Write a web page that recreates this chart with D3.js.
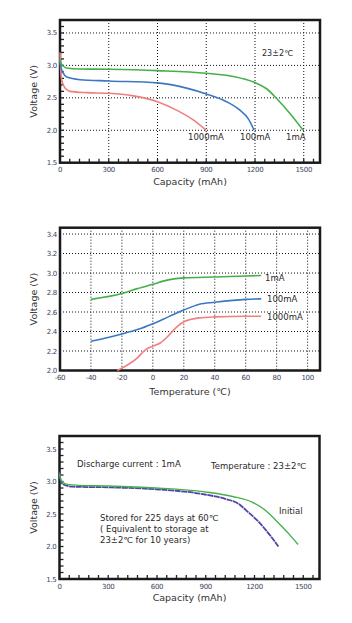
<!DOCTYPE html>
<html>
<head>
<meta charset="utf-8">
<script src="https://cdn.jsdelivr.net/npm/d3@7"></script>
<style>
  body { margin: 0; background: #fff; }
  svg text { font-family: "DejaVu Sans", sans-serif; }
</style>
</head>
<body>
<div id="chart"></div>
<script>
// ---- chart 1 : discharge at different currents (capacity, voltage)
var cap1mA    = [0, 5, 20, 40, 123, 300, 600, 900, 1066, 1195, 1271, 1333, 1415, 1497];
var volt1mA   = [3.10, 3.04, 2.99, 2.96, 2.945, 2.94, 2.92, 2.88, 2.83, 2.74, 2.64, 2.49, 2.26, 2.0];
var cap100mA  = [0, 5, 20, 41, 123, 300, 600, 779, 900, 1025, 1107, 1158, 1195];
var volt100mA = [3.08, 2.98, 2.88, 2.82, 2.78, 2.76, 2.73, 2.65, 2.56, 2.44, 2.31, 2.18, 2.0];
var cap1000mA  = [0, 4, 10, 31, 62, 164, 300, 451, 600, 717, 820, 900];
var volt1000mA = [3.20, 2.95, 2.78, 2.65, 2.60, 2.58, 2.57, 2.53, 2.44, 2.31, 2.16, 2.0];

// ---- chart 2 : voltage vs temperature
var temp1mA   = [-40, -20, -10, 0, 10, 20, 40, 60, 70];
var tv1mA     = [2.73, 2.79, 2.84, 2.885, 2.93, 2.95, 2.96, 2.97, 2.975];
var temp100mA = [-40, -20, -10, 0, 10, 20, 30, 40, 60, 70];
var tv100mA   = [2.30, 2.375, 2.42, 2.48, 2.55, 2.62, 2.68, 2.70, 2.73, 2.735];
var temp1000mA = [-23, -10, -5, 0, 5, 10, 15, 20, 30, 40, 60, 70];
var tv1000mA   = [2.0, 2.13, 2.21, 2.25, 2.285, 2.355, 2.44, 2.50, 2.54, 2.55, 2.556, 2.556];

// ---- chart 3 : storage characteristics
var capInitial  = [0, 5, 20, 41, 123, 297, 594, 895, 1065, 1188, 1270, 1352, 1413, 1468];
var voltInitial = [3.12, 3.05, 2.99, 2.96, 2.94, 2.93, 2.90, 2.84, 2.77, 2.68, 2.55, 2.35, 2.19, 2.03];
var capStored   = [0, 5, 20, 82, 297, 594, 895, 1024, 1106, 1147, 1229, 1290, 1347];
var voltStored  = [3.15, 3.04, 2.96, 2.92, 2.91, 2.88, 2.80, 2.73, 2.65, 2.56, 2.37, 2.19, 2.0];

var capTicks  = [0, 300, 600, 900, 1200, 1500];
var voltTicks = [1.5, 2.0, 2.5, 3.0, 3.5];
var tempTicks = [-60, -40, -20, 0, 20, 40, 60, 80, 100];
var tvTicks   = [2.0, 2.2, 2.4, 2.6, 2.8, 3.0, 3.2, 3.4];

var green = "#45b04b", blue = "#3b78c2", red = "#f07f80", purple = "#4e44a8";

var svg = d3.select("#chart").append("svg")
    .attr("width", 352).attr("height", 623);

function zip(xs, ys) { return xs.map(function (x, i) { return [x, ys[i]]; }); }

// draws one panel: frame, grid, ticks, labels
function panel(opt) {
    var x = d3.scaleLinear().domain(opt.xDomain).range([opt.left, opt.right]);
    var y = d3.scaleLinear().domain(opt.yDomain).range([opt.bottom, opt.top]);
    var g = svg.append("g");

    if (opt.grid) {
        g.selectAll(".gx").data(opt.xGrid).enter().append("line")
            .attr("x1", function (d) { return x(d); }).attr("x2", function (d) { return x(d); })
            .attr("y1", opt.top).attr("y2", opt.bottom)
            .attr("stroke", "#111").attr("stroke-width", 1).attr("stroke-dasharray", "1,2");
        g.selectAll(".gy").data(opt.yGrid).enter().append("line")
            .attr("y1", function (d) { return y(d); }).attr("y2", function (d) { return y(d); })
            .attr("x1", opt.left).attr("x2", opt.right)
            .attr("stroke", "#111").attr("stroke-width", 1).attr("stroke-dasharray", "1,2");
    }

    // minor ticks pointing inward
    if (opt.minorY) {
        g.selectAll(".my").data(d3.range(opt.yDomain[0] + 0.1, opt.yDomain[1], 0.1)).enter().append("line")
            .attr("x1", opt.left).attr("x2", opt.left + 4)
            .attr("y1", function (d) { return y(d); }).attr("y2", function (d) { return y(d); })
            .attr("stroke", "#222").attr("stroke-width", 1.3);
    }
    if (opt.minorX) {
        g.selectAll(".mx").data(d3.range(60, 1600, 60)).enter().append("line")
            .attr("y1", opt.bottom).attr("y2", opt.bottom - 4)
            .attr("x1", function (d) { return x(d); }).attr("x2", function (d) { return x(d); })
            .attr("stroke", "#222").attr("stroke-width", 1.3);
    }

    // tick labels
    g.selectAll(".ly").data(opt.yTicks).enter().append("text")
        .attr("x", opt.left - 3).attr("y", function (d) { return y(d) + 2.5; })
        .attr("text-anchor", "end").attr("font-size", 7).attr("fill", "#3a3f5c")
        .attr("letter-spacing", "-0.3")
        .text(function (d) { return d.toFixed(1); });
    g.selectAll(".lx").data(opt.xTicks).enter().append("text")
        .attr("x", function (d) { return x(d); }).attr("y", opt.bottom + 9.5)
        .attr("text-anchor", "middle").attr("font-size", 7).attr("fill", "#3a3f5c")
        .attr("letter-spacing", "-0.3")
        .text(function (d) { return d; });

    // frame
    g.append("rect")
        .attr("x", opt.left).attr("y", opt.top)
        .attr("width", opt.right - opt.left).attr("height", opt.bottom - opt.top)
        .attr("fill", "none").attr("stroke", "#1a1a1a").attr("stroke-width", 2.5);

    // axis titles
    g.append("text")
        .attr("transform", "translate(" + 37 + "," + ((opt.top + opt.bottom) / 2) + ") rotate(-90)")
        .attr("text-anchor", "middle").attr("font-size", 9.5).attr("fill", "#333")
        .text("Voltage (V)");
    g.append("text")
        .attr("x", (opt.left + opt.right) / 2).attr("y", opt.bottom + opt.titleGap)
        .attr("text-anchor", "middle").attr("font-size", 9.5).attr("fill", "#333")
        .text(opt.xTitle);

    return { x: x, y: y, g: g };
}

function curve(p, pts, color, width) {
    var line = d3.line()
        .x(function (d) { return p.x(d[0]); })
        .y(function (d) { return p.y(d[1]); })
        .curve(d3.curveMonotoneX);
    return p.g.append("path").datum(pts)
        .attr("d", line).attr("fill", "none")
        .attr("stroke", color).attr("stroke-width", width || 1.6);
}

function label(p, px, py, txt, size, anchor) {
    p.g.append("text").attr("x", px).attr("y", py)
        .attr("font-size", size || 8.5).attr("fill", "#2a2a2a")
        .attr("text-anchor", anchor || "start")
        .text(txt);
}

// ================= chart 1
var p1 = panel({
    left: 60, right: 320, top: 20, bottom: 162.7,
    xDomain: [0, 1600], yDomain: [1.5, 3.7],
    xTicks: capTicks, yTicks: voltTicks,
    grid: true, xGrid: [300, 600, 900, 1200, 1500], yGrid: [2.0, 2.5, 3.0, 3.5],
    minorX: true, minorY: true,
    xTitle: "Capacity (mAh)", titleGap: 22
});
curve(p1, zip(cap1000mA, volt1000mA), red);
curve(p1, zip(cap100mA, volt100mA), blue);
curve(p1, zip(cap1mA, volt1mA), green);
label(p1, 188, 140, "1000mA");
label(p1, 240, 140, "100mA");
label(p1, 286, 140, "1mA");
label(p1, 262, 56, "23±2℃", 8);

// ================= chart 2
var p2 = panel({
    left: 60, right: 320, top: 227.7, bottom: 370.5,
    xDomain: [-60, 108], yDomain: [2.0, 3.465],
    xTicks: tempTicks, yTicks: tvTicks,
    grid: true, xGrid: [-40, -20, 0, 20, 40, 60, 80, 100], yGrid: [2.2, 2.4, 2.6, 2.8, 3.0, 3.2, 3.4],
    minorX: false, minorY: false,
    xTitle: "Temperature (℃)", titleGap: 24
});
curve(p2, zip(temp1mA, tv1mA), green);
curve(p2, zip(temp100mA, tv100mA), blue);
curve(p2, zip(temp1000mA, tv1000mA), red);
label(p2, 265, 281, "1mA");
label(p2, 267, 302, "100mA");
label(p2, 267, 320, "1000mA");

// ================= chart 3
var p3 = panel({
    left: 59.5, right: 319.5, top: 436, bottom: 579,
    xDomain: [0, 1600], yDomain: [1.5, 3.7],
    xTicks: capTicks, yTicks: voltTicks,
    grid: false,
    minorX: true, minorY: true,
    xTitle: "Capacity (mAh)", titleGap: 22
});
curve(p3, zip(capStored, voltStored), purple, 1.8).attr("stroke-dasharray", "6,0.6");
curve(p3, zip(capInitial, voltInitial), green, 1.4);
label(p3, 77, 467, "Discharge current : 1mA");
label(p3, 211, 469, "Temperature : 23±2℃");
label(p3, 279, 514, "Initial");
label(p3, 100, 521, "Stored for 225 days at 60℃");
label(p3, 100, 532, "( Equivalent to storage at");
label(p3, 100, 543, "23±2℃ for 10 years)");
</script>
</body>
</html>
